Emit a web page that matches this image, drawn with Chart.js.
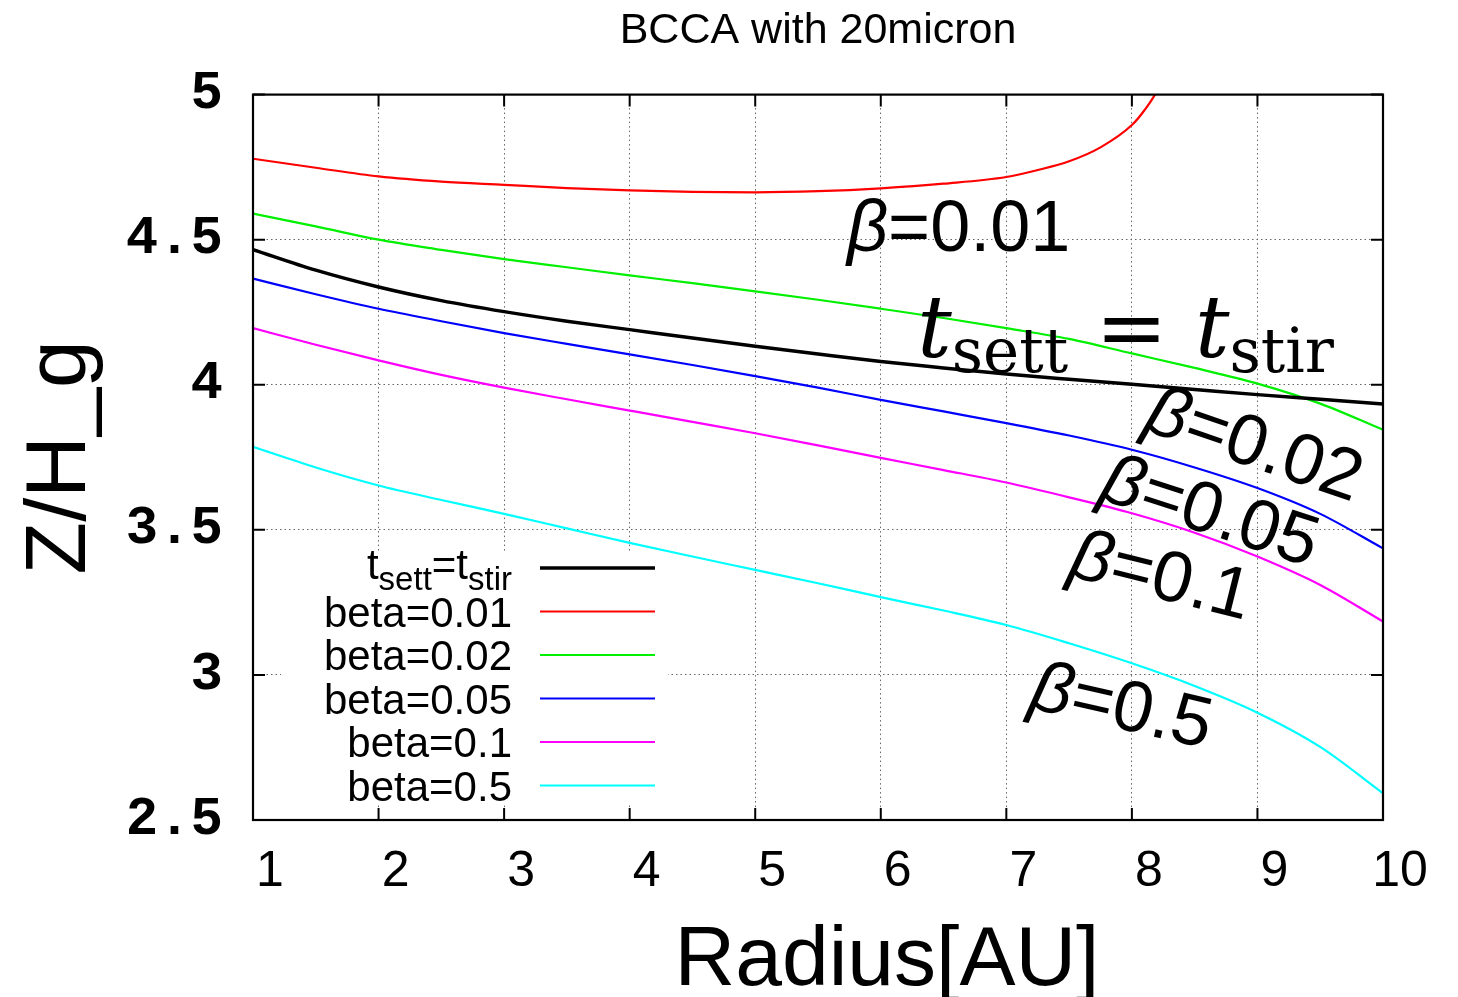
<!DOCTYPE html>
<html>
<head>
<meta charset="utf-8">
<title>BCCA with 20micron</title>
<script src="https://cdn.jsdelivr.net/npm/chart.js"></script>
<style>
  html, body { margin: 0; padding: 0; background: #fff; }
  #wrap { width: 1458px; height: 997px; }
</style>
</head>
<body>
<div id="wrap"><canvas id="zChart" width="1458" height="997"></canvas></div>
<script>
// radius [AU] shared by most curves
const radius = [1, 1.5, 2, 2.5, 3, 3.5, 4, 4.5, 5, 5.5, 6, 6.5, 7, 7.5, 8, 8.5, 9, 9.5, 10];
// beta=0.01 runs off the top, so it gets its own (denser near the end) grid
const radiusRed = [1, 1.5, 2, 2.5, 3, 3.5, 4, 4.5, 5, 5.5, 6, 6.5, 7, 7.25, 7.5, 7.75, 8, 8.1, 8.2, 8.3];

// Z/H_g
const tsettTstir = [4.466, 4.395, 4.337, 4.290, 4.252, 4.219, 4.190, 4.161, 4.133, 4.106, 4.080, 4.058, 4.037, 4.019, 4.002, 3.984, 3.966, 3.950, 3.934];
const beta001 = [4.779, 4.748, 4.718, 4.700, 4.689, 4.678, 4.670, 4.665, 4.663, 4.667, 4.677, 4.693, 4.716, 4.740, 4.770, 4.818, 4.895, 4.946, 5.012, 5.110];
const beta002 = [4.590, 4.546, 4.500, 4.465, 4.433, 4.405, 4.377, 4.350, 4.322, 4.293, 4.262, 4.230, 4.195, 4.158, 4.108, 4.058, 4.004, 3.935, 3.845];
const beta005 = [4.366, 4.312, 4.262, 4.219, 4.178, 4.141, 4.105, 4.068, 4.030, 3.990, 3.948, 3.908, 3.868, 3.825, 3.776, 3.715, 3.644, 3.555, 3.436];
const beta01  = [4.195, 4.138, 4.084, 4.034, 3.990, 3.950, 3.911, 3.872, 3.833, 3.791, 3.748, 3.706, 3.663, 3.612, 3.557, 3.490, 3.408, 3.310, 3.184];
const beta05  = [3.786, 3.715, 3.653, 3.603, 3.555, 3.505, 3.455, 3.408, 3.362, 3.316, 3.268, 3.222, 3.172, 3.109, 3.040, 2.962, 2.870, 2.752, 2.592];

// tick values and labels
const xTicks = [1, 2, 3, 4, 5, 6, 7, 8, 9, 10];
const xTickLabels = ['1', '2', '3', '4', '5', '6', '7', '8', '9', '10'];
const yTicks = [2.5, 3, 3.5, 4, 4.5, 5];
const yTickLabels = ['2.5', '3', '3.5', '4', '4.5', '5'];

// text written on the plot (r, z = anchor in data units, angle in degrees)
const notes = [
  { text: 'β=0.01', r: 6.62, z: 4.462, angle: 0 },
  { text: 'β=0.02', r: 8.92, z: 3.721, angle: 19 },
  { text: 'β=0.05', r: 8.57, z: 3.490, angle: 18 },
  { text: 'β=0.1',  r: 8.19, z: 3.266, angle: 14 },
  { text: 'β=0.5',  r: 7.88, z: 2.817, angle: 13 }
];
const tNote = { text: 't_{sett} = t_{stir}', r: 6.29, z: 4.097 };
const xTitle = 'Radius[AU]';

function pairs(xs, ys) {
  return ys.map((v, i) => ({ x: xs[i], y: v }));
}

// "a_{b}" -> normal + subscript pieces
function parseRich(str) {
  const segs = [];
  const re = /_\{([^}]*)\}/g;
  let last = 0, m;
  while ((m = re.exec(str))) {
    if (m.index > last) segs.push({ t: str.slice(last, m.index), sub: false });
    segs.push({ t: m[1], sub: true });
    last = re.lastIndex;
  }
  if (last < str.length) segs.push({ t: str.slice(last), sub: false });
  return segs;
}

function drawRich(ctx, str, x, y, o) {
  const runs = [];
  parseRich(str).forEach(s => {
    if (s.sub) { runs.push({ t: s.t, font: o.sub, dy: o.shift }); return; }
    s.t.split(/([\u03b1-\u03c9])/).forEach(p => {
      if (!p) return;
      const greek = /[\u03b1-\u03c9]/.test(p);
      runs.push({ t: p, font: greek && o.greek ? o.greek : o.main, dy: 0 });
    });
  });
  let w = 0;
  runs.forEach(r => { ctx.font = r.font; r.w = ctx.measureText(r.t).width; w += r.w; });
  let cx = o.align === 'right' ? x - w : o.align === 'center' ? x - w / 2 : x;
  ctx.textAlign = 'left';
  ctx.textBaseline = 'alphabetic';
  runs.forEach(r => { ctx.font = r.font; ctx.fillText(r.t, cx, y + r.dy); cx += r.w; });
}

// gnuplot-like key, labels and frame
const gnuplotLook = {
  id: 'gnuplotLook',
  afterDatasetsDraw(chart) {
    const { ctx, chartArea: a, scales: { x, y } } = chart;

    // key box
    const rowY0 = a.bottom - 252, rowH = 43.5;
    const n = chart.data.datasets.length;
    ctx.save();
    ctx.fillStyle = '#fff';
    ctx.fillRect(a.left + 28, rowY0 - 16, 387, (n - 1) * rowH + 34);
    chart.data.datasets.forEach((ds, i) => {
      const ry = rowY0 + i * rowH;
      const hasSub = ds.label.indexOf('_{') >= 0;
      ctx.fillStyle = '#000';
      drawRich(ctx, ds.label, a.left + 259, ry + (hasSub ? 11 : 15), {
        main: '42px "Liberation Sans", Arial, sans-serif',
        sub: '33px "Liberation Sans", Arial, sans-serif',
        shift: 11,
        align: 'right'
      });
      ctx.strokeStyle = ds.borderColor;
      ctx.lineWidth = ds.borderWidth;
      ctx.beginPath();
      ctx.moveTo(a.left + 287, ry);
      ctx.lineTo(a.left + 402, ry);
      ctx.stroke();
    });

    // labels on the curves
    ctx.fillStyle = '#000';
    notes.forEach(nt => {
      ctx.save();
      ctx.translate(x.getPixelForValue(nt.r), y.getPixelForValue(nt.z));
      ctx.rotate(nt.angle * Math.PI / 180);
      drawRich(ctx, nt.text, 0, 0, {
        main: '72px "Liberation Sans", Arial, sans-serif',
        greek: 'italic 72px "Liberation Sans", Arial, sans-serif',
        align: 'center'
      });
      ctx.restore();
    });
    drawRich(ctx, tNote.text, x.getPixelForValue(tNote.r), y.getPixelForValue(tNote.z), {
      main: 'italic 86px "DejaVu Serif", serif',
      sub: '61px "DejaVu Serif", serif',
      shift: 15,
      align: 'left'
    });
    ctx.restore();
  },
  afterDraw(chart) {
    const { ctx, chartArea: a, scales: { x, y } } = chart;
    ctx.save();
    ctx.strokeStyle = '#000';
    ctx.lineWidth = 2;
    ctx.beginPath();
    // inward ticks on all four sides
    xTicks.forEach(v => {
      const px = x.getPixelForValue(v);
      ctx.moveTo(px, a.bottom); ctx.lineTo(px, a.bottom - 12);
      ctx.moveTo(px, a.top); ctx.lineTo(px, a.top + 12);
    });
    yTicks.forEach(v => {
      const py = y.getPixelForValue(v);
      ctx.moveTo(a.left, py); ctx.lineTo(a.left + 12, py);
      ctx.moveTo(a.right, py); ctx.lineTo(a.right - 12, py);
    });
    ctx.stroke();
    ctx.lineWidth = 2.2;
    ctx.strokeRect(a.left, a.top, a.right - a.left, a.bottom - a.top);

    // x axis title (sits right of centre in the original)
    ctx.fillStyle = '#000';
    ctx.font = '84px "Liberation Sans", Arial, sans-serif';
    ctx.textAlign = 'center';
    ctx.textBaseline = 'alphabetic';
    ctx.fillText(xTitle, (a.left + a.right) / 2 + 69, a.bottom + 165);
    ctx.restore();
  }
};

Chart.defaults.color = '#000';

const ctx = document.getElementById('zChart').getContext('2d');
new Chart(ctx, {
  type: 'line',
  data: {
    datasets: [
      { label: 't_{sett}=t_{stir}', data: pairs(radius, tsettTstir), borderColor: '#000000', borderWidth: 3.5 },
      { label: 'beta=0.01', data: pairs(radiusRed, beta001), borderColor: '#ff0000', borderWidth: 2.2 },
      { label: 'beta=0.02', data: pairs(radius, beta002), borderColor: '#00f000', borderWidth: 2.2 },
      { label: 'beta=0.05', data: pairs(radius, beta005), borderColor: '#0000ff', borderWidth: 2.2 },
      { label: 'beta=0.1', data: pairs(radius, beta01), borderColor: '#ff00ff', borderWidth: 2.2 },
      { label: 'beta=0.5', data: pairs(radius, beta05), borderColor: '#00ffff', borderWidth: 2.2 }
    ]
  },
  options: {
    responsive: false,
    animation: false,
    devicePixelRatio: 1,
    layout: { padding: { left: 0, right: 75, top: 0, bottom: 0 } },
    elements: {
      point: { radius: 0 },
      line: { cubicInterpolationMode: 'monotone', capBezierPoints: false, fill: false }
    },
    plugins: {
      legend: { display: false },
      tooltip: { enabled: false },
      title: {
        display: true,
        text: 'BCCA with 20micron',
        fullSize: false,
        color: '#000',
        font: { family: '"Liberation Sans", Arial, sans-serif', size: 43, weight: 'normal', lineHeight: 1.2 },
        padding: { top: 5, bottom: 38 }
      }
    },
    scales: {
      x: {
        type: 'linear',
        min: 1,
        max: 10,
        afterBuildTicks: s => { s.ticks = xTicks.map(v => ({ value: v })); },
        afterFit: s => { s.height = 177; },
        ticks: {
          callback: (v, i) => xTickLabels[i],
          labelOffset: 17,
          padding: 22,
          maxRotation: 0,
          font: { family: '"Liberation Sans", Arial, sans-serif', size: 50 }
        },
        grid: { color: '#666', lineWidth: 1, drawTicks: false },
        border: { display: false, dash: [1.5, 3] }
      },
      y: {
        type: 'linear',
        min: 2.5,
        max: 5,
        afterBuildTicks: s => { s.ticks = yTicks.map(v => ({ value: v })); },
        afterFit: s => { s.width = 253; },
        ticks: {
          callback: (v, i) => yTickLabels[i],
          padding: 30,
          font: { family: '"Liberation Mono", "DejaVu Sans Mono", monospace', size: 54, weight: 'bold' }
        },
        grid: { color: '#666', lineWidth: 1, drawTicks: false },
        border: { display: false, dash: [1.5, 3] },
        title: {
          display: true,
          text: 'Z/H_g',
          font: { family: '"Liberation Sans", Arial, sans-serif', size: 86, lineHeight: 1 },
          padding: { top: 18, bottom: 0 }
        }
      }
    }
  },
  plugins: [gnuplotLook]
});
</script>
</body>
</html>
